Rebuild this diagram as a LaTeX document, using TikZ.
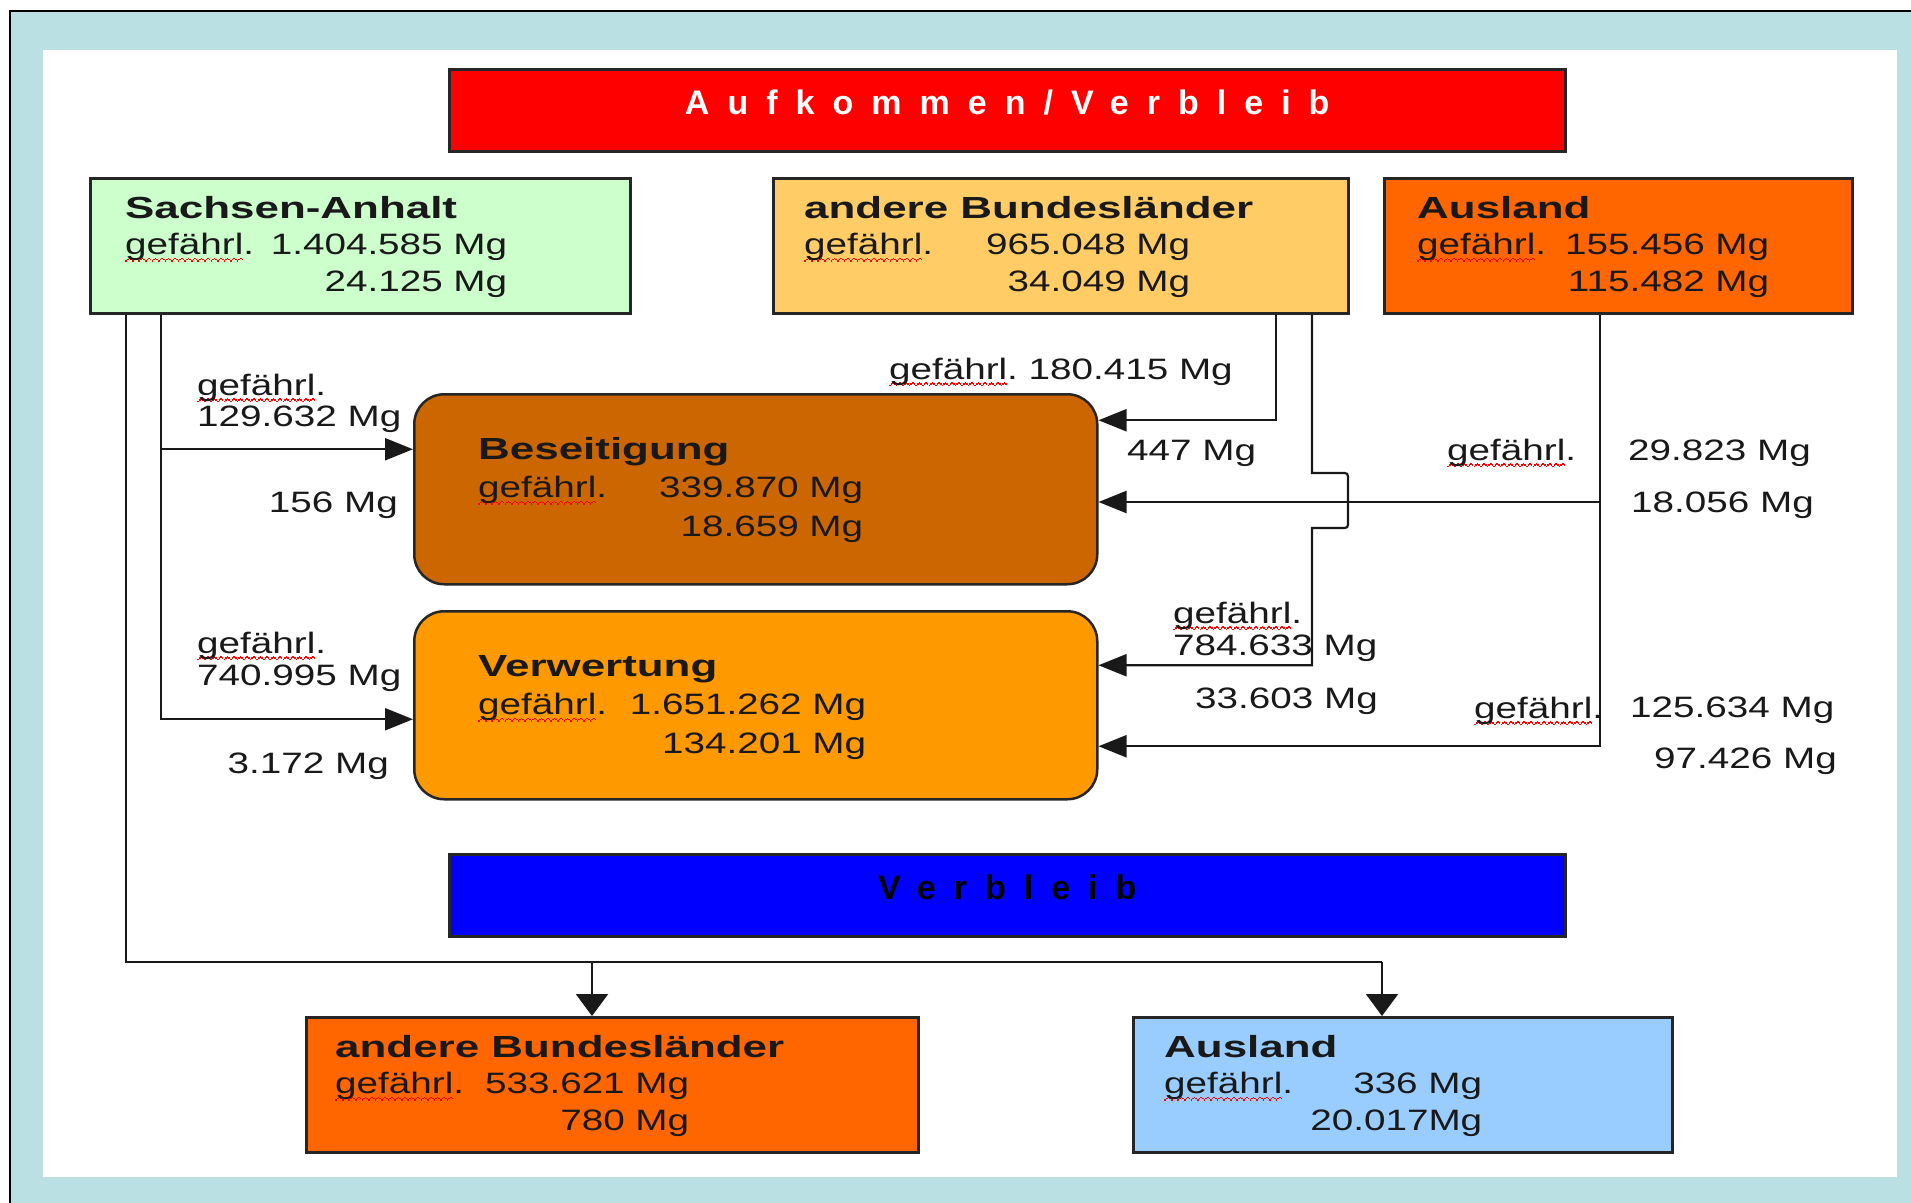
\documentclass[tikz,border=0pt]{standalone}
\usepackage{fontspec}
\setmainfont{Liberation Sans}[FakeStretch=1.31]
\newfontfamily\boldf{Liberation Sans}[FakeStretch=1.44]
\newfontfamily\titlef{Liberation Sans}[LetterSpace=53]
\usetikzlibrary{arrows.meta}
\newcommand\wavepat{\hbox{\rule[-7pt]{1.6pt}{1.5pt}\rule[-5.8pt]{1.6pt}{1.5pt}\rule[-4.6pt]{1.6pt}{1.5pt}\rule[-5.8pt]{1.6pt}{1.5pt}}}
\newcommand\gef{\setbox0\hbox{gefährl}\rlap{\color{red}\hbox to \wd0{\xleaders\wavepat\hfil}}\box0.}
\newcommand\infobox[5]{{\fontsize{29.5}{#5}\selectfont
  \begin{tabular}[t]{@{}l@{}}
  {\boldf\bfseries\fontsize{30.5}{#5}\selectfont #1}\\
  \makebox[#4][l]{\gef\hfill #2}\\
  \makebox[#4][r]{#3}
  \end{tabular}}}
\newcommand\twol[3]{{\fontsize{29.5}{#1}\selectfont\begin{tabular}[t]{@{}l@{}}#2\\#3\end{tabular}}}
\definecolor{frameblue}{RGB}{187,224,227}
\definecolor{sagreen}{RGB}{204,255,204}
\definecolor{ablyellow}{RGB}{255,204,102}
\definecolor{orng}{RGB}{255,102,0}
\definecolor{besbrown}{RGB}{204,102,0}
\definecolor{verworange}{RGB}{255,153,0}
\definecolor{lightblue}{RGB}{153,204,255}
\begin{document}
\begin{tikzpicture}[x=1pt,y=-1pt,
  box/.style={draw=black!85, line width=2.5pt, inner sep=0pt, anchor=north west},
  line/.style={draw=black!90, line width=2.2pt},
  harr/.style={line, -{Triangle[length=28pt,width=22pt]}},
  varr/.style={line, -{Triangle[length=22pt,width=32pt]}},
  txt/.style={inner sep=0pt, text=black!90, font=\fontsize{29.5}{36}\selectfont},
  banner/.style={box, minimum width=1116pt, minimum height=82pt, text height=45pt, text depth=37pt,
    font=\titlef\bfseries\fontsize{34}{40}\selectfont}
]
\useasboundingbox (0,0) rectangle (1911,1202);
\fill[white] (0,0) rectangle (1911,1202);
\draw[black, line width=2.5pt, fill=frameblue] (10,11) rectangle (1940,1230);
\fill[white] (43,50) rectangle (1897,1177);

% boxes
\node[banner, fill=red, text=white] (title) at (448,68) {Aufkommen/Verbleib};
\node[box, fill=sagreen, minimum width=540pt, minimum height=135pt] (sa) at (89,177) {};
\node[box, fill=ablyellow, minimum width=575pt, minimum height=135pt] (abl) at (772,177) {};
\node[box, fill=orng, minimum width=468pt, minimum height=135pt] (ausl) at (1383,177) {};
\node[box, fill=besbrown, rounded corners=30pt, minimum width=683pt, minimum height=190pt] (bes) at (413,393) {};
\node[box, fill=verworange, rounded corners=30pt, minimum width=683pt, minimum height=188pt] (verw) at (413,610) {};
\node[banner, fill=blue, text=black] (verb) at (448,853) {Verbleib};
\node[box, fill=orng, minimum width=612pt, minimum height=135pt] (abl2) at (305,1016) {};
\node[box, fill=lightblue, minimum width=539pt, minimum height=135pt] (ausl2) at (1132,1016) {};

% box texts
\node[txt, anchor=base west] (sat) at (125,218) {\infobox{Sachsen-Anhalt}{1.404.585 Mg}{24.125 Mg}{382pt}{36.5pt}};
\node[txt, anchor=base west] (ablt) at (804,218) {\infobox{andere Bundesländer}{965.048 Mg}{34.049 Mg}{386pt}{36.5pt}};
\node[txt, anchor=base west] (auslt) at (1417,218) {\infobox{Ausland}{155.456 Mg}{115.482 Mg}{352pt}{36.5pt}};
\node[txt, anchor=base west] (best) at (478,459) {\infobox{Beseitigung}{339.870 Mg}{18.659 Mg}{385pt}{38.5pt}};
\node[txt, anchor=base west] (verwt) at (478,676) {\infobox{Verwertung}{1.651.262 Mg}{134.201 Mg}{388pt}{38.5pt}};
\node[txt, anchor=base west] (abl2t) at (335,1057) {\infobox{andere Bundesländer}{533.621 Mg}{780 Mg}{354pt}{36.5pt}};
\node[txt, anchor=base west] (ausl2t) at (1164,1057) {\infobox{Ausland}{336 Mg}{20.017Mg}{318pt}{36.5pt}};

% connectors
\draw[harr] ([xshift=72pt]sa.south west) |- ([yshift=40pt]bes.west);
\draw[harr] ([xshift=72pt]sa.south west) |- ([yshift=-14pt]verw.west);
\coordinate (busA) at (592,962);
\coordinate (busB) at (1382,962);
\draw[line] ([xshift=37pt]sa.south west) |- (busB);
\draw[varr] (busA) -- (busA |- abl2.north);
\draw[varr] (busB) -- (busB |- ausl2.north);
\draw[harr] ([xshift=504pt]abl.south west) |- ([yshift=69pt]bes.east);
\draw[harr] ([xshift=540pt]abl.south west) -- (1312,473) -- (1341,473) .. controls (1348,473) .. (1348,480)
  -- (1348,521) .. controls (1348,528) .. (1341,528) -- (1312,528) |- ([yshift=40pt]verw.east);
\draw[harr] ([xshift=217pt]ausl.south west) |- ([yshift=-41pt]verw.east);
\coordinate (aj) at (1600,502);
\draw[harr] (aj) -- (aj -| bes.east);

% connector labels
\node[txt, anchor=base west] (l1) at (197,395) {\twol{31pt}{\gef}{129.632 Mg}};
\node[txt, anchor=base east] (l2) at (398,512) {156 Mg};
\node[txt, anchor=base west] (l3) at (197,653) {\twol{32pt}{\gef}{740.995 Mg}};
\node[txt, anchor=base east] (l4) at (389,773) {3.172 Mg};
\node[txt, anchor=base east] (l5) at (1233,379) {\gef\ 180.415 Mg};
\node[txt, anchor=base west] (l6) at (1127,460) {447 Mg};
\node[txt, anchor=base west] (l7) at (1447,460) {\gef};
\node[txt, anchor=base west] (l8) at (1628,460) {29.823 Mg};
\node[txt, anchor=base west] (l9) at (1631,512) {18.056 Mg};
\node[txt, anchor=base west] (l10) at (1173,623) {\twol{32pt}{\gef}{784.633 Mg}};
\node[txt, anchor=base west] (l11) at (1195,708) {33.603 Mg};
\node[txt, anchor=base west] (l12) at (1474,718) {\gef};
\node[txt, anchor=base west] (l13) at (1630,717) {125.634 Mg};
\node[txt, anchor=base west] (l14) at (1654,768) {97.426 Mg};
\end{tikzpicture}
\end{document}
